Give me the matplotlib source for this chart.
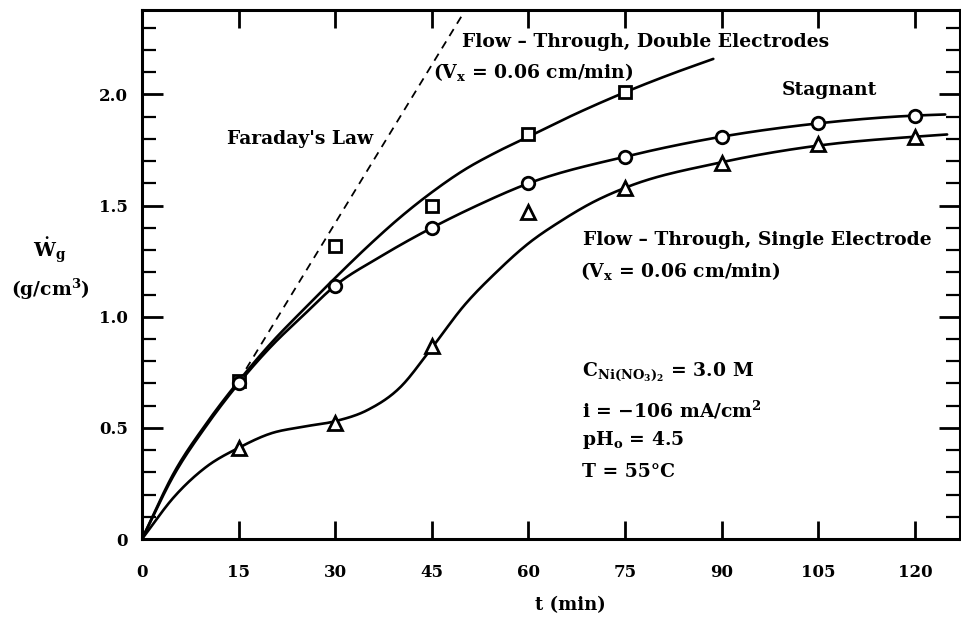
import numpy as np
import matplotlib
matplotlib.use("Agg")
import matplotlib.pyplot as plt
from matplotlib.ticker import MultipleLocator

# ------------------------------------------------------------
# Data (t in min, W in g/cm^3)
# ------------------------------------------------------------
t_pts = [15, 30, 45, 60, 75, 90, 105, 120]

double_t = [15, 30, 45, 60, 75]
double_w = [0.71, 1.32, 1.50, 1.82, 2.01]

stagnant_w = [0.70, 1.14, 1.40, 1.60, 1.72, 1.81, 1.87, 1.905]

single_w = [0.41, 0.52, 0.87, 1.47, 1.58, 1.69, 1.775, 1.81]

# hand-drawn fitted curves
double_curve_t = [0, 5, 10, 15, 20, 25, 30, 35, 40, 45, 50, 55, 60, 67.5, 75, 82, 88.7]
double_curve_w = [0, 0.30, 0.52, 0.71, 0.88, 1.03, 1.175, 1.315, 1.445, 1.56, 1.66,
                  1.74, 1.81, 1.915, 2.01, 2.09, 2.16]

stagnant_curve_t = [0, 5, 10, 15, 20, 25, 30, 37, 45, 52, 60, 75, 90, 105, 120, 124.7]
stagnant_curve_w = [0, 0.29, 0.51, 0.70, 0.865, 1.005, 1.14, 1.27, 1.40, 1.50, 1.60,
                    1.72, 1.81, 1.87, 1.905, 1.91]

single_curve_t = [0, 5, 10, 15, 20, 25, 30, 35, 40, 45, 50, 55, 60, 65,
                  70, 75, 90, 105, 120, 125]
single_curve_w = [0, 0.19, 0.325, 0.41, 0.475, 0.505, 0.53, 0.58, 0.68, 0.86,
                  1.05, 1.20, 1.33, 1.43, 1.515, 1.58, 1.695, 1.77, 1.81, 1.82]

faraday_t = [15, 50.2]
faraday_w = [0.71, 2.38]


def smooth(xs, ys, n=24):
    # cubic Hermite through the traced points, for drawing only
    x = np.asarray(xs, float)
    y = np.asarray(ys, float)
    h = np.diff(x)
    d = np.diff(y) / h
    m = np.empty_like(y)
    m[0], m[-1] = d[0], d[-1]
    m[1:-1] = (h[1:] * d[:-1] + h[:-1] * d[1:]) / (h[:-1] + h[1:])
    s = np.linspace(0, 1, n, endpoint=False)
    ox, oy = [], []
    for i in range(len(h)):
        h00 = 2 * s**3 - 3 * s**2 + 1
        h10 = s**3 - 2 * s**2 + s
        h01 = -2 * s**3 + 3 * s**2
        h11 = s**3 - s**2
        ox.append(x[i] + s * h[i])
        oy.append(h00 * y[i] + h10 * h[i] * m[i] + h01 * y[i + 1] + h11 * h[i] * m[i + 1])
    ox.append([x[-1]])
    oy.append([y[-1]])
    return np.concatenate(ox), np.concatenate(oy)


plt.rcParams['font.family'] = 'DejaVu Serif'
plt.rcParams['font.weight'] = 'bold'
plt.rcParams['mathtext.fontset'] = 'custom'
plt.rcParams['mathtext.rm'] = 'DejaVu Serif:bold'
plt.rcParams['mathtext.it'] = 'DejaVu Serif:bold'
plt.rcParams['mathtext.bf'] = 'DejaVu Serif:bold'

fig = plt.figure(figsize=(9.62, 6.19), dpi=100)
ax = fig.add_axes([142 / 962, 80 / 619, 818 / 962, 529 / 619])

lw = 1.9
for ct, cw in [(double_curve_t, double_curve_w),
               (stagnant_curve_t, stagnant_curve_w),
               (single_curve_t, single_curve_w)]:
    sx, sy = smooth(ct, cw)
    ax.plot(sx, sy, color='black', lw=lw, solid_capstyle='round')

ax.plot(faraday_t, faraday_w, color='black', lw=1.3, dashes=(4.5, 3.5))

mk = dict(color='black', linestyle='none', markerfacecolor='white',
          markeredgewidth=2.0, markersize=9, zorder=5)
ax.plot(double_t, double_w, marker='s', **mk)
ax.plot(t_pts, stagnant_w, marker='o', **mk)
ax.plot(t_pts, single_w, marker='^', **dict(mk, markersize=10.5))

ax.set_xlim(0, 127)
ax.set_ylim(0, 2.38)

ax.xaxis.set_major_locator(MultipleLocator(15))
ax.yaxis.set_minor_locator(MultipleLocator(0.1))
ax.set_yticks([0, 0.5, 1.0, 1.5, 2.0])
ax.set_yticklabels(['0', '0.5', '1.0', '1.5', '2.0'])
ax.tick_params(axis='x', which='major', direction='in', length=13, width=2,
               top=True, pad=18, labelsize=12)
ax.tick_params(axis='y', which='major', direction='in', length=15, width=2,
               right=True, pad=10, labelsize=12)
ax.tick_params(axis='y', which='minor', direction='in', length=10, width=1.6,
               right=True)
for sp in ax.spines.values():
    sp.set_linewidth(2.2)

ax.set_xlabel('t (min)', fontsize=13, fontweight='bold')
ax.xaxis.set_label_coords((570 - 142) / 818, -0.107)

fig.text(50 / 962, 1 - 250 / 619, r'$\dot{\mathrm{W}}_{\mathrm{g}}$', fontsize=14,
         ha='center', va='center')
fig.text(50 / 962, 1 - 289 / 619, r'(g/cm$^{\mathrm{3}}$)', fontsize=13.5,
         ha='center', va='center', fontweight='bold')

fs = 13.5
ax.text(13.2, 1.80, "Faraday's Law", fontsize=fs, va='center')
ax.text(49.7, 2.235, 'Flow – Through, Double Electrodes', fontsize=fs, va='center')
ax.text(45.2, 2.10, r'(V$_{\mathrm{x}}$ = 0.06 cm/min)', fontsize=fs, va='center')
ax.text(99.4, 2.02, 'Stagnant', fontsize=fs, va='center')
ax.text(68.5, 1.345, 'Flow – Through, Single Electrode', fontsize=fs, va='center')
ax.text(68.0, 1.205, r'(V$_{\mathrm{x}}$ = 0.06 cm/min)', fontsize=fs, va='center')

ax.text(68.3, 0.75, r'C$_{\mathrm{Ni(NO_3)_2}}$ = 3.0 M', fontsize=fs, va='center')
ax.text(68.3, 0.58, r'i = −106 mA/cm$^{\mathrm{2}}$', fontsize=fs, va='center')
ax.text(68.3, 0.445, r'pH$_{\mathrm{o}}$ = 4.5', fontsize=fs, va='center')
ax.text(68.3, 0.30, 'T = 55°C', fontsize=fs, va='center')

fig.savefig('out.png', dpi=100)
